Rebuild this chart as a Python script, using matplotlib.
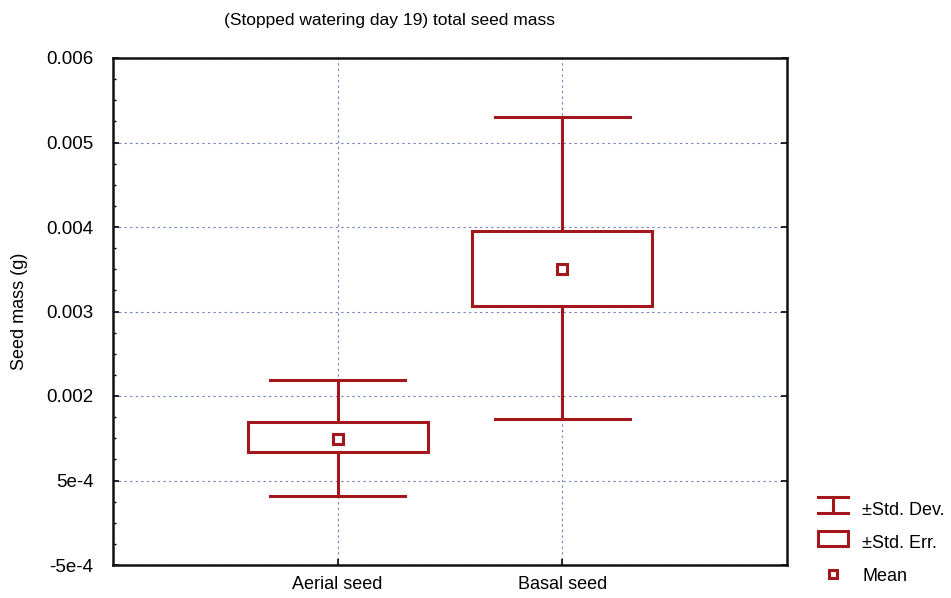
import matplotlib
matplotlib.use("Agg")
import matplotlib.pyplot as plt
from matplotlib.patches import Rectangle
from matplotlib.lines import Line2D
from matplotlib.legend_handler import HandlerBase, HandlerLine2D
from matplotlib.ticker import MultipleLocator

plt.rcParams['font.family'] = ['Liberation Sans', 'DejaVu Sans']

# values
groups = ["Aerial seed", "Basal seed"]
means = [0.00149, 0.00350]
se_low = [0.00134, 0.00307]
se_high = [0.00169, 0.00395]
sd_low = [0.00082, 0.00173]
sd_high = [0.00219, 0.00530]

ytick_vals = [0.000, 0.001, 0.002, 0.003, 0.004, 0.005, 0.006]
ytick_labels = ["-5e-4", "5e-4", "0.002", "0.003", "0.004", "0.005", "0.006"]

red = "#a3161c"
grid_col = "#4a5fa8"

fig = plt.figure(figsize=(9.51, 5.98), dpi=100)
ax = fig.add_axes([113/951, 1-565/598, (787-113)/951, (565-58)/598])

xs = [1, 2]
for x, m, sl, sh, dl, dh in zip(xs, means, se_low, se_high, sd_low, sd_high):
    # whiskers (std dev)
    ax.plot([x, x], [dl, sl], color=red, lw=2.2, zorder=3)
    ax.plot([x, x], [sh, dh], color=red, lw=2.2, zorder=3)
    ax.plot([x-0.3, x+0.3], [dl, dl], color=red, lw=2.2, zorder=3)
    ax.plot([x-0.3, x+0.3], [dh, dh], color=red, lw=2.2, zorder=3)
    # box (std err)
    ax.add_patch(Rectangle((x-0.4, sl), 0.8, sh-sl, facecolor="white",
                           edgecolor=red, lw=2.2, zorder=3))
    ax.plot(x, m, marker="s", ms=7, mfc="white", mec=red, mew=2.2, zorder=4)

ax.set_xlim(0, 3)
ax.set_ylim(0, 0.006)
ax.set_xticks(xs)
ax.set_xticklabels(groups, fontsize=13)
ax.set_yticks(ytick_vals)
ax.set_yticklabels(ytick_labels, fontsize=13.5)
ax.yaxis.set_minor_locator(MultipleLocator(0.00025))
ax.tick_params(direction="in", length=4, width=1.2, right=True, top=False)
ax.tick_params(axis="y", pad=14)
ax.tick_params(axis="x", pad=8)
ax.tick_params(which="minor", direction="in", length=2.5, width=1, right=False)
ax.grid(True, color=grid_col, ls=(0, (2, 3)), lw=0.8, alpha=0.8)
ax.set_axisbelow(True)
for s in ax.spines.values():
    s.set_linewidth(1.8)
    s.set_color("#111111")
ax.set_ylabel("Seed mass (g)", fontsize=13, labelpad=13)

fig.text(390/951, 1-20/598, "(Stopped watering day 19) total seed mass",
         ha="center", va="center", fontsize=12.5)


class SDHandler(HandlerBase):
    def create_artists(self, legend, orig, xd, yd, w, h, fs, trans):
        cx = xd + w/2
        a = Line2D([cx, cx], [yd, yd+h], color=red, lw=2.2, transform=trans)
        b = Line2D([xd, xd+w], [yd, yd], color=red, lw=2.2, transform=trans)
        c = Line2D([xd, xd+w], [yd+h, yd+h], color=red, lw=2.2, transform=trans)
        return [a, b, c]


class SEHandler(HandlerBase):
    def create_artists(self, legend, orig, xd, yd, w, h, fs, trans):
        r = Rectangle((xd, yd+0.5), w, h-1, facecolor="white", edgecolor=red,
                      lw=2.2, transform=trans)
        return [r]


sd_h = Line2D([], [], color=red)
se_h = Rectangle((0, 0), 1, 1)
mean_h = Line2D([], [], ls="none", marker="s", ms=6, mfc="white", mec=red, mew=2.2)
fig.legend([sd_h, se_h, mean_h], ["\u00b1Std. Dev.", "\u00b1Std. Err.", "Mean"],
           handler_map={sd_h: SDHandler(), se_h: SEHandler(), mean_h: HandlerLine2D()},
           loc="center left", bbox_to_anchor=(811/951, 1-543/598), frameon=False,
           fontsize=13, handlelength=1.66, handleheight=1.0, labelspacing=0.83,
           handletextpad=0.77, borderpad=0.4, borderaxespad=0)

fig.savefig("out.png", dpi=100)
